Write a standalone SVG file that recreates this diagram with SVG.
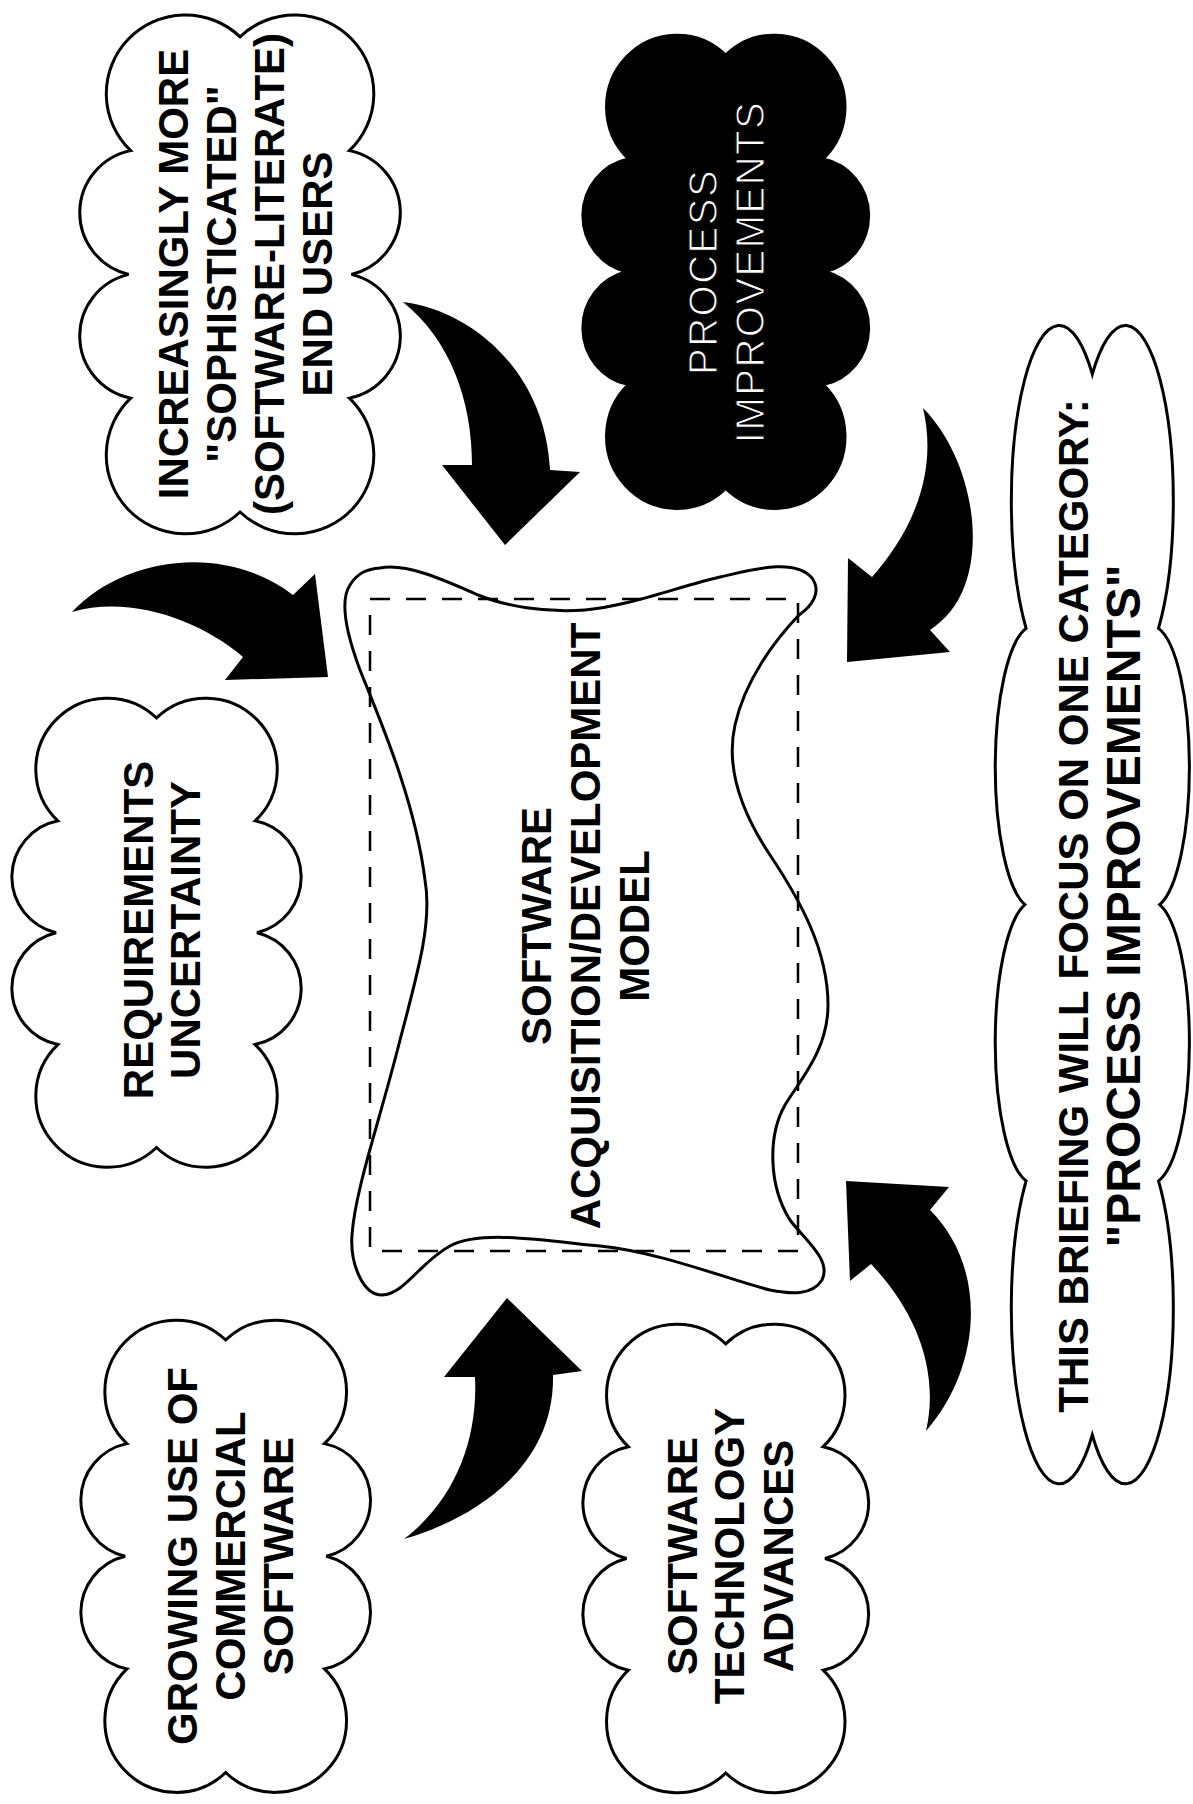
<svg xmlns="http://www.w3.org/2000/svg" width="1193" height="1804" viewBox="0 0 1193 1804">
<style>
.cl{fill:#fff;stroke:#000;stroke-width:3}
.clb{fill:#000;stroke:#000;stroke-width:3}
.t{font-family:"Liberation Sans",Arial,Helvetica,sans-serif;font-weight:bold;font-size:42px;text-anchor:middle;fill:#000}
.t48{font-size:48px}
.lt{font-family:"Liberation Sans",Arial,Helvetica,sans-serif;font-weight:normal;font-size:40px;letter-spacing:1.5px;text-anchor:middle;fill:#fff;stroke:#000;stroke-width:1.1px}
.arrow{fill:#000;stroke:none}
.blob{fill:none;stroke:#000;stroke-width:3}
.dash{fill:none;stroke:#000;stroke-width:2.5;stroke-dasharray:20 16}
</style>
<defs>
<path id="cloud" vector-effect="non-scaling-stroke" d="M160,20 A1,1 0 0 1 270,135 A64,64 0 0 1 272,260 A64,64 0 0 1 270,385 A1,1 0 0 1 160,500 A1,1 0 0 1 50,385 A64,64 0 0 1 48,260 A64,64 0 0 1 50,135 A1,1 0 0 1 160,20 Z"/>
</defs>
<rect x="0" y="0" width="1193" height="1804" fill="#fff"/>

<g id="connectors">
<path class="arrow" d="M403,302 C470,310 545,370 550,470 L580,472 L505,545 L442,465 L472,465 C472,400 450,340 403,302 Z"/>
<path class="arrow" d="M72,612 C120,560 220,540 293,595 L315,574 L328,677 L225,680 L243,657 C200,620 130,595 72,612 Z"/>
<path class="arrow" d="M923,408 C965,450 985,530 965,585 C958,605 945,620 930,630 L950,652 L847,662 L848,558 L872,577 C905,540 940,480 923,408 Z"/>
<path class="arrow" d="M404,1539 C470,1520 555,1470 553,1375 L582,1371 L507,1298 L444,1377 L475,1377 C478,1440 455,1500 404,1539 Z"/>
<path class="arrow" d="M926,1431 C980,1370 990,1270 930,1210 L949,1187 L846,1181 L850,1281 L871,1264 C915,1310 940,1370 926,1431 Z"/>
</g>

<g id="end-users">
<use href="#cloud" class="cl" transform="translate(81 17) scale(0.994 0.99)"/>
<g transform="translate(0 274) rotate(-90)">
<text class="t" x="0" y="188">INCREASINGLY MORE</text>
<text class="t" x="0" y="236">"SOPHISTICATED"</text>
<text class="t" x="0" y="284">(SOFTWARE-LITERATE)</text>
<text class="t" x="0" y="332">END USERS</text>
</g>
</g>

<g id="process-improvements">
<use href="#cloud" class="clb" transform="translate(584 37) scale(0.886 0.903)"/>
<g transform="translate(0 272) rotate(-90)">
<text class="lt" x="0" y="717">PROCESS</text>
<text class="lt" x="0" y="764">IMPROVEMENTS</text>
</g>
</g>

<g id="requirements">
<use href="#cloud" class="cl" transform="translate(13 700) scale(0.897 0.895)"/>
<g transform="translate(0 930) rotate(-90)">
<text class="t" x="0" y="153">REQUIREMENTS</text>
<text class="t" x="0" y="200">UNCERTAINTY</text>
</g>
</g>

<g id="commercial">
<use href="#cloud" class="cl" transform="translate(82 1322) scale(0.898 0.901)"/>
<g transform="translate(0 1556) rotate(-90)">
<text class="t" x="0" y="197">GROWING USE OF</text>
<text class="t" x="0" y="245">COMMERCIAL</text>
<text class="t" x="0" y="293">SOFTWARE</text>
</g>
</g>

<g id="technology">
<use href="#cloud" class="cl" transform="translate(584 1326) scale(0.886 0.894)"/>
<g transform="translate(0 1556) rotate(-90)">
<text class="t" x="0" y="697">SOFTWARE</text>
<text class="t" x="0" y="744">TECHNOLOGY</text>
<text class="t" x="0" y="793">ADVANCES</text>
</g>
</g>

<g id="briefing">
<use href="#cloud" class="cl" transform="translate(996 330) scale(0.602 2.21)"/>
<g transform="translate(0 906) rotate(-90)">
<text class="t" x="0" y="1088">THIS BRIEFING WILL FOCUS ON ONE CATEGORY:</text>
<text class="t t48" x="0" y="1140">"PROCESS IMPROVEMENTS"</text>
</g>
</g>

<g id="model">
<path class="blob" d="M380,568 C405,563 440,578 478,595 C505,606 545,613 585,610 C630,606 680,586 720,577 C755,569 795,558 812,578 C822,592 812,606 799,615 C775,640 745,680 735,725 C726,765 740,810 770,855 C800,900 828,950 828,1005 C828,1050 800,1080 785,1105 C768,1135 768,1185 790,1220 C805,1240 832,1260 822,1280 C812,1296 790,1294 770,1290 C730,1280 660,1252 600,1246 C540,1240 480,1230 450,1246 C420,1262 405,1294 382,1295 C362,1295 350,1262 352,1235 C355,1190 380,1120 400,1040 C420,965 432,920 425,880 C415,800 380,720 360,670 C345,630 340,600 350,585 C358,572 368,569 380,568 Z"/>
<rect class="dash" x="370" y="599" width="428" height="652"/>
<g transform="translate(0 926) rotate(-90)">
<text class="t" x="0" y="551">SOFTWARE</text>
<text class="t" x="0" y="600">ACQUISITION/DEVELOPMENT</text>
<text class="t" x="0" y="649">MODEL</text>
</g>
</g>
</svg>
